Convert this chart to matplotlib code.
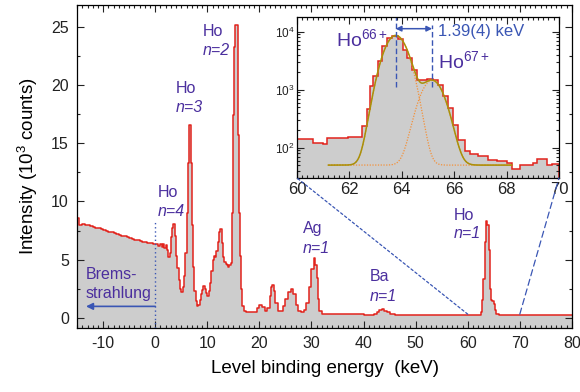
"""Level binding energy spectrum with a log-scale inset of the Ho K-shell peak."""

import matplotlib.pyplot as plt
from matplotlib.patches import ConnectionPatch
from matplotlib.ticker import MultipleLocator, LogLocator, NullFormatter
import numpy as np

plt.rcParams["font.family"] = ["Liberation Sans", "DejaVu Sans"]
plt.rcParams["mathtext.fontset"] = "custom"
plt.rcParams["mathtext.rm"] = "Liberation Sans"
plt.rcParams["mathtext.it"] = "Liberation Sans:italic"
plt.rcParams["axes.unicode_minus"] = False

RED = "#e2231c"
GRAY = "#cdcdcd"
PURPLE = "#4b2f9e"
BLUE = "#3a56b4"
OLIVE = "#a8900a"
ORANGE = "#f3913a"

# spectrum, step left edges (keV) and intensity (10^3 counts)
energy = [
    -15.0, -14.6, -14.0, -13.5, -13.0, -12.5, -12.0, -11.5, -11.0, -10.5,
    -10.0, -9.5, -9.0, -8.5, -8.0, -7.5, -7.0, -6.5, -6.0, -5.5,
    -5.0, -4.5, -4.0, -3.5, -3.0, -2.5, -2.0, -1.5, -1.0, -0.5,
    0.0, 0.5, 1.0, 1.25, 1.5, 1.75, 2.0, 2.25, 2.5, 2.75,
    3.0, 3.25, 3.5, 3.75, 4.0, 4.25, 4.5, 4.75, 5.0, 5.25,
    5.5, 5.75, 6.0, 6.25, 6.4, 6.85, 7.0, 7.25, 7.5, 7.75,
    8.0, 8.25, 8.5, 8.75, 9.0, 9.25, 9.5, 9.75, 10.0, 10.25,
    10.5, 10.75, 11.0, 11.25, 11.5, 11.75, 12.0, 12.25, 12.5, 12.75,
    13.0, 13.25, 13.5, 13.75, 14.0, 14.25, 14.5, 14.7, 14.85, 15.1,
    15.4, 15.8, 16.05, 16.25, 16.5, 16.75, 17.0, 17.5, 18.0, 18.5,
    19.0, 19.5, 20.0, 20.5, 21.0, 21.5, 22.0, 22.25, 22.5, 22.75,
    23.0, 23.5, 24.0, 24.5, 25.0, 25.5, 26.0, 26.5, 27.0, 27.5,
    28.0, 28.5, 29.0, 29.5, 30.0, 30.5, 30.75, 31.0, 31.25, 31.5,
    32.0, 33.0, 34.0, 36.0, 38.0, 40.0, 42.0, 42.5, 43.0, 43.5,
    44.0, 44.5, 45.0, 46.0, 48.0, 50.0, 52.0, 54.0, 56.0, 58.0,
    60.0, 62.0, 62.5, 62.75, 63.0, 63.25, 63.5, 63.75, 64.0, 64.25,
    64.5, 64.75, 65.0, 65.25, 65.5, 66.0, 68.0, 70.0, 72.0, 75.0,
    78.0, 80.0,
]
intensity = [
    8.6, 8.0, 8.1, 8.0, 7.95, 7.9, 7.8, 7.75, 7.7, 7.65,
    7.55, 7.5, 7.4, 7.35, 7.25, 7.2, 7.1, 7.05, 7.0, 6.9,
    6.85, 6.8, 6.7, 6.7, 6.6, 6.55, 6.5, 6.45, 6.4, 6.35,
    6.3, 6.2, 6.35, 6.1, 6.3, 6.0, 6.25, 5.8, 5.2, 5.6,
    6.9, 7.7, 8.1, 7.0, 5.3, 4.3, 3.2, 2.5, 2.25, 2.6,
    3.6, 5.6, 9.0, 13.3, 16.6, 13.3, 8.0, 4.4, 2.3, 1.4,
    1.0, 1.1, 1.5, 2.0, 2.4, 2.75, 2.5, 2.1, 1.9, 2.3,
    3.0, 4.0, 5.0, 5.3, 5.2, 5.7, 6.5, 7.4, 7.6, 6.4,
    5.2, 4.8, 4.6, 4.5, 4.4, 4.5, 4.7, 9.0, 17.4, 23.3,
    25.2, 15.7, 9.0, 5.3, 2.5, 1.0, 0.55, 0.45, 0.45, 0.45,
    0.5, 0.8, 1.05, 0.9, 0.55, 0.8, 1.9, 2.6, 2.85, 2.3,
    1.3, 0.6, 0.6, 1.0, 1.6, 2.2, 2.45, 2.0, 1.1, 0.6,
    0.5, 0.7, 1.3, 2.6, 4.2, 5.1, 4.5, 3.4, 1.6, 0.6,
    0.35, 0.3, 0.3, 0.28, 0.28, 0.27, 0.3, 0.45, 0.7, 0.75,
    0.6, 0.45, 0.3, 0.27, 0.26, 0.26, 0.25, 0.25, 0.25, 0.25,
    0.25, 0.25, 0.5, 1.5, 3.3, 6.5, 8.3, 8.0, 5.8, 2.5,
    1.5, 1.4, 1.2, 0.7, 0.3, 0.25, 0.22, 0.22, 0.22, 0.22,
    0.22, 0.22,
]

# Ho n=1 region, bin edges (keV) and counts
inset_edges = [
    60.0, 60.62, 61.0, 61.13, 61.96, 62.47, 62.66, 62.79, 62.91, 63.1,
    63.23, 63.42, 63.61, 63.87, 64.06, 64.19, 64.38, 64.57, 64.76, 64.95,
    65.2, 65.39, 65.58, 65.77, 65.97, 66.16, 66.41, 66.6, 66.92, 67.3,
    67.62, 68.0, 68.19, 68.51, 69.02, 69.15, 69.53, 69.72, 70.0,
]
inset_counts = [
    141, 120, 115, 148, 155, 235, 460, 1150, 1700, 3100,
    5600, 7800, 8500, 7500, 4900, 3500, 2200, 1490, 1450, 1550,
    1490, 1230, 765, 480, 250, 138, 87, 78, 71, 62,
    58, 55, 43, 50, 55, 63, 50, 53,
]

# two-Gaussian fit of the Ho66+ / Ho67+ lines
fit_centers = [63.77, 65.16]
fit_amplitudes = [8600, 1400]
fit_sigma = 0.40
fit_background = 50
fit_range = (61.2, 68.2)


def style_axes(ax):
    ax.tick_params(which="both", direction="in", top=True, right=True,
                   width=0.8, colors="#222222")
    ax.tick_params(which="major", length=5)
    ax.tick_params(which="minor", length=2.5)
    for sp in ax.spines.values():
        sp.set_linewidth(0.9)


fig = plt.figure(figsize=(5.8, 3.92), dpi=100)
ax = fig.add_axes([0.133, 0.163, 0.853, 0.824])

e = np.array(energy)
c = np.array(intensity)
ax.fill_between(e, -2, c, step="post", color=GRAY, lw=0)
ax.step(e, c, where="post", color=RED, lw=1.1)

ax.set_xlim(-15, 80)
ax.set_ylim(-0.9, 26.9)
ax.xaxis.set_major_locator(MultipleLocator(10))
ax.xaxis.set_minor_locator(MultipleLocator(1))
ax.yaxis.set_major_locator(MultipleLocator(5))
ax.yaxis.set_minor_locator(MultipleLocator(2.5))
style_axes(ax)
ax.tick_params(labelsize=11.5, pad=6)
ax.set_xlabel("Level binding energy  (keV)", fontsize=13.5, labelpad=6)
ax.set_ylabel("Intensity (10$^3$ counts)", fontsize=13.5, labelpad=8)

# line labels
labels = [
    (0.4, 10.42, 8.76, "Ho", "n=4"),
    (3.9, 19.3, 17.7, "Ho", "n=3"),
    (9.15, 24.2, 22.6, "Ho", "n=2"),
    (28.4, 7.3, 5.6, "Ag", "n=1"),
    (41.1, 3.18, 1.4, "Ba", "n=1"),
    (57.4, 8.42, 6.85, "Ho", "n=1"),
]
for x, y1, y2, elem, shell in labels:
    ax.text(x, y1, elem, color=PURPLE, fontsize=11.5, va="baseline")
    ax.text(x, y2, shell, color=PURPLE, fontsize=11.5, va="baseline",
            style="italic")

ax.text(-13.4, 3.32, "Brems-", color=PURPLE, fontsize=11.5, va="baseline")
ax.text(-13.4, 1.69, "strahlung", color=PURPLE, fontsize=11.5, va="baseline")
ax.annotate("", xy=(-13.3, 0.97), xytext=(0, 0.97),
            arrowprops=dict(arrowstyle="-|>", color=BLUE, lw=1.2,
                            mutation_scale=10, shrinkA=0, shrinkB=0))
ax.plot([0, 0], [-0.9, 8.4], color=BLUE, lw=1, ls=(0, (1, 2)))

# inset: log view of Ho n=1
ins = fig.add_axes([0.512, 0.546, 0.4517, 0.4107])
ins.stairs(inset_counts, inset_edges, baseline=1, fill=True, color=GRAY, lw=0)
ins.stairs(inset_counts, inset_edges, color=RED, lw=1.1)

xf = np.linspace(*fit_range, 300)
g1 = fit_amplitudes[0] * np.exp(-(xf - fit_centers[0]) ** 2 / (2 * fit_sigma ** 2))
g2 = fit_amplitudes[1] * np.exp(-(xf - fit_centers[1]) ** 2 / (2 * fit_sigma ** 2))
ins.plot(xf, g1 + fit_background, color=ORANGE, lw=0.9, ls=(0, (1, 1.2)))
ins.plot(xf, g2 + fit_background, color=ORANGE, lw=0.9, ls=(0, (1, 1.2)))
ins.plot(xf, g1 + g2 + fit_background, color=OLIVE, lw=1.1)

ins.set_yscale("log")
ins.set_xlim(60, 70)
ins.set_ylim(30, 1.8e4)
ins.xaxis.set_major_locator(MultipleLocator(2))
ins.xaxis.set_minor_locator(MultipleLocator(0.2))
ins.yaxis.set_major_locator(LogLocator(base=10, numticks=10))
ins.yaxis.set_minor_locator(LogLocator(base=10, subs=np.arange(2, 10), numticks=10))
ins.yaxis.set_minor_formatter(NullFormatter())
style_axes(ins)
ins.tick_params(axis="x", labelsize=12, pad=3)
ins.tick_params(axis="y", labelsize=8.5, pad=2)

ins.plot([fit_centers[0]] * 2, [1100, 1.8e4], color=BLUE, lw=1, ls=(0, (4, 2)))
ins.plot([fit_centers[1]] * 2, [1100, 1.3e4], color=BLUE, lw=1, ls=(0, (4, 2)))
ins.annotate("", xy=(fit_centers[1], 1.13e4), xytext=(fit_centers[0], 1.13e4),
             arrowprops=dict(arrowstyle="<|-|>", color=BLUE, lw=1.1,
                             mutation_scale=8, shrinkA=0, shrinkB=0))
ins.text(65.4, 8300, "1.39(4) keV", color=BLUE, fontsize=12, va="baseline")
ins.text(61.5, 5580, r"Ho$^{\mathrm{66+}}$", color=PURPLE, fontsize=14,
         va="baseline")
ins.text(65.4, 2370, r"Ho$^{\mathrm{67+}}$", color=PURPLE, fontsize=14,
         va="baseline")

# zoom guides from the main axis to the inset corners
for x0, xa, ls in [(60, 0, (0, (2, 2))), (70, 1, (0, (5, 3)))]:
    con = ConnectionPatch(xyA=(x0, 0.3), coordsA=ax.transData,
                          xyB=(xa, 0), coordsB=ins.transAxes,
                          color=BLUE, lw=0.9, ls=ls)
    fig.add_artist(con)

fig.savefig("out.png", dpi=100)
